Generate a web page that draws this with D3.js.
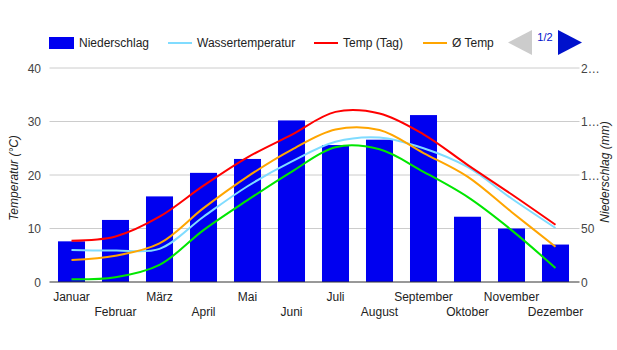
<!DOCTYPE html>
<html>
<head>
<meta charset="utf-8">
<script src="https://cdn.jsdelivr.net/npm/d3@7"></script>
<style>
  body { margin: 0; background: #fff; }
  svg { font-family: "Liberation Sans", Arial, sans-serif; }
</style>
</head>
<body>
<svg id="chart" width="617" height="350"></svg>
<script>
// data
const months = ["Januar", "Februar", "März", "April", "Mai", "Juni", "Juli", "August", "September", "Oktober", "November", "Dezember"];
const niederschlag = [38, 58, 80, 102, 115, 151, 128, 133, 156, 61, 50, 35];
const wasserTemp = [6.0, 5.9, 6.2, 12.2, 17.9, 22.5, 26.2, 27.0, 25.0, 21.5, 15.6, 10.1];
const tempTag = [7.7, 8.5, 12.2, 18.0, 23.3, 27.5, 31.8, 31.5, 27.6, 21.9, 16.4, 10.7];
const tempAvg = [4.1, 4.9, 7.2, 13.8, 19.7, 24.7, 28.5, 28.4, 24.1, 19.7, 13.1, 6.6];
const tempNacht = [0.5, 0.9, 3.2, 9.7, 15.3, 20.6, 25.2, 24.8, 20.6, 15.9, 9.7, 2.6];
const leftTicks = [0, 10, 20, 30, 40];
const rightTicks = [0, 50, 100, 150, 200];
const rightTickLabels = ["0", "50", "1…", "1…", "2…"];

const svg = d3.select("#chart");
const plotLeft = 49.5, plotRight = 577.5, plotTop = 68, plotBottom = 282;

const x = d3.scaleBand()
  .domain(months)
  .range([plotLeft, plotRight])
  .paddingInner(0.386)
  .paddingOuter(0.193);

const y = d3.scaleLinear().domain([0, 40]).range([plotBottom, plotTop]);
const y2 = d3.scaleLinear().domain([0, 200]).range([plotBottom, plotTop]);

// gridlines
svg.append("g")
  .selectAll("line")
  .data(leftTicks.slice(1))
  .enter()
  .append("line")
  .attr("x1", plotLeft).attr("x2", plotRight + 2)
  .attr("y1", d => y(d)).attr("y2", d => y(d))
  .attr("stroke", "#cccccc")
  .attr("stroke-width", 1);

// left axis labels
svg.append("g")
  .selectAll("text")
  .data(leftTicks)
  .enter()
  .append("text")
  .attr("x", 41)
  .attr("y", d => y(d) + 4.5)
  .attr("text-anchor", "end")
  .attr("font-size", 12)
  .attr("fill", "#444")
  .text(d => d);

// right axis labels
svg.append("g")
  .selectAll("text")
  .data(rightTicks)
  .enter()
  .append("text")
  .attr("x", 581)
  .attr("y", d => y2(d) + 4.5)
  .attr("font-size", 12)
  .attr("fill", "#444")
  .text((d, i) => rightTickLabels[i]);

// axis titles
svg.append("text")
  .attr("transform", "translate(18," + (y(20) + 3) + ") rotate(-90)")
  .attr("text-anchor", "middle")
  .attr("font-size", 12)
  .attr("font-style", "italic")
  .attr("fill", "#222")
  .text("Temperatur (°C)");

svg.append("text")
  .attr("transform", "translate(609," + (y(20) - 3) + ") rotate(-90)")
  .attr("text-anchor", "middle")
  .attr("font-size", 12)
  .attr("font-style", "italic")
  .attr("fill", "#222")
  .text("Niederschlag (mm)");

// bars
svg.append("g")
  .selectAll("rect")
  .data(niederschlag)
  .enter()
  .append("rect")
  .attr("x", (d, i) => x(months[i]))
  .attr("y", d => y2(d))
  .attr("width", x.bandwidth())
  .attr("height", d => plotBottom - y2(d))
  .attr("fill", "#0000f0");

// baseline
svg.append("line")
  .attr("x1", plotLeft).attr("x2", plotRight + 2)
  .attr("y1", plotBottom).attr("y2", plotBottom)
  .attr("stroke", "#333")
  .attr("stroke-width", 1);

// lines
const line = d3.line()
  .x((d, i) => x(months[i]) + x.bandwidth() / 2)
  .y(d => y(d))
  .curve(d3.curveCatmullRom.alpha(0.5));

const series = [
  { values: wasserTemp, color: "#80dcff" },
  { values: tempTag, color: "#ff0000" },
  { values: tempAvg, color: "#ffa500" },
  { values: tempNacht, color: "#00e600" }
];

series.forEach(s => {
  svg.append("path")
    .datum(s.values)
    .attr("d", line)
    .attr("fill", "none")
    .attr("stroke", s.color)
    .attr("stroke-width", 2);
});

// x labels, two rows
svg.append("g")
  .selectAll("text")
  .data(months)
  .enter()
  .append("text")
  .attr("x", d => x(d) + x.bandwidth() / 2)
  .attr("y", (d, i) => i % 2 === 0 ? 301 : 316)
  .attr("text-anchor", "middle")
  .attr("font-size", 12)
  .attr("fill", "#222")
  .text(d => d);

// legend
const legend = svg.append("g");
legend.append("rect")
  .attr("x", 49).attr("y", 37).attr("width", 25).attr("height", 12)
  .attr("fill", "#0000f0");
legend.append("text").attr("x", 79).attr("y", 47).attr("font-size", 12).attr("fill", "#222").text("Niederschlag");

const legendLines = [
  { x: 168, color: "#80dcff", label: "Wassertemperatur" },
  { x: 314, color: "#ff0000", label: "Temp (Tag)" },
  { x: 423, color: "#ffa500", label: "Ø Temp" }
];
legendLines.forEach(l => {
  legend.append("line")
    .attr("x1", l.x).attr("x2", l.x + 24)
    .attr("y1", 43).attr("y2", 43)
    .attr("stroke", l.color).attr("stroke-width", 2);
  legend.append("text")
    .attr("x", l.x + 29).attr("y", 47)
    .attr("font-size", 12).attr("fill", "#222")
    .text(l.label);
});

// pager
legend.append("path")
  .attr("d", "M532,30 L532,55 L508,42.5 Z")
  .attr("fill", "#cccccc");
legend.append("text")
  .attr("x", 545).attr("y", 41)
  .attr("text-anchor", "middle")
  .attr("font-size", 11)
  .attr("fill", "#0011cc")
  .text("1/2");
legend.append("path")
  .attr("d", "M558,30 L558,55 L582,42.5 Z")
  .attr("fill", "#0011cc");
</script>
</body>
</html>
